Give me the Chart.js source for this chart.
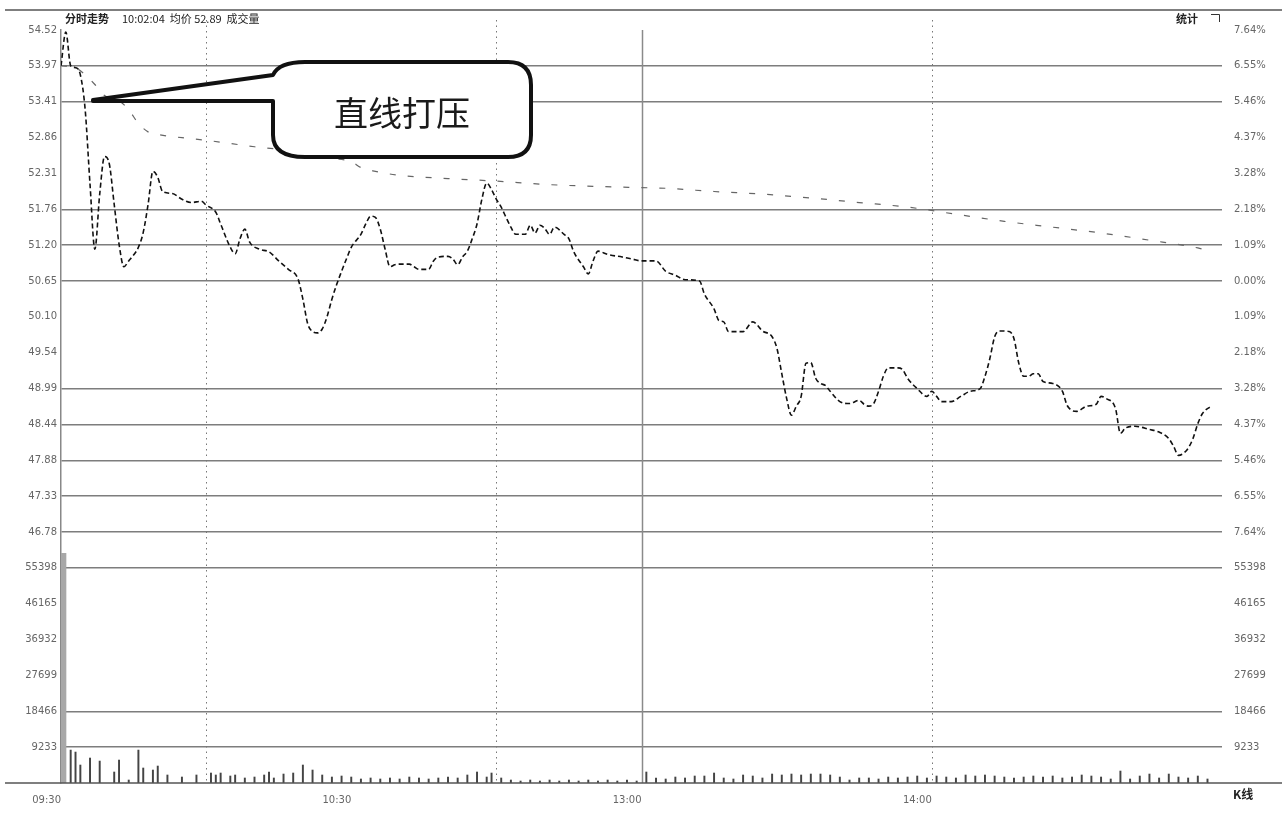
<!DOCTYPE html>
<html>
<head>
<meta charset="utf-8">
<script src="https://cdn.jsdelivr.net/npm/chart.js@4.4.1/dist/chart.umd.min.js"></script>
<style>
html, body { margin: 0; padding: 0; background: #fff; }
#wrap { width: 1282px; height: 818px; position: relative; }
</style>
</head>
<body>
<div id="wrap"><canvas id="fenshi"></canvas></div>
<script>
// 昨收 / 刻度
var prevClose = 50.65;
var priceStep = 0.553;     // 每格 1.09%
var volStep = 9233;        // 成交量每格
var timeLabels = {0: '09:30', 60: '10:30', 120: '13:00', 180: '14:00'};
var solidMinutes = [120];
var dottedMinutes = [30, 90, 180];
var gridRows = [1, 2, 6, 7, 8, 9, 10, 11, 14, 15, 16, 19, 20];

// 分时价格
var priceMinutes = [0,1,2,3,4,5,6,7,8,9,10,11,12,13,14,15,16,17,18,19,20,21,23,25,27,29,30,32,33,35,36,37,38,39,41,43,45,47,49,50,51,52,53,54,55,56,57,58,59,60,62,63,64,65,66,67,68,69,70,72,73,74,76,77,78,80,81,82,83,84,85,86,87,88,89,90,91,92,93,94,96,97,98,99,100,101,102,104,105,106,108,109,110,111,113,116,118,120,
  121,123,125,127,129,132,133,135,136,137,138,140,141,143,145,147,148,149,150,151,152,153,154,155,156,157,158,159,161,163,165,166,167,168,169,170,171,173,174,175,177,179,180,181,182,184,186,188,190,191,192,193,194,196,197,198,199,200,201,202,203,205,207,208,210,212,214,215,216,218,219,220,222,225,227,229,230,231,232,233,234,235,236,238];
var prices = [53.97,54.49,53.97,53.94,53.83,53.29,52.14,51.14,51.99,52.57,52.45,51.83,51.22,50.87,50.96,51.05,51.17,51.40,51.83,52.34,52.25,52.03,52.00,51.91,51.86,51.88,51.82,51.71,51.53,51.17,51.07,51.30,51.45,51.25,51.14,51.10,50.96,50.83,50.68,50.37,49.99,49.87,49.85,49.91,50.10,50.37,50.60,50.80,50.99,51.17,51.37,51.53,51.65,51.63,51.45,51.14,50.87,50.90,50.91,50.91,50.87,50.83,50.83,50.96,51.02,51.03,50.99,50.90,51.02,51.11,51.30,51.53,51.91,52.16,52.06,51.91,51.79,51.63,51.48,51.37,51.37,51.51,51.39,51.51,51.46,51.37,51.48,51.37,51.30,51.10,50.87,50.76,50.96,51.11,51.06,51.02,50.99,50.96,
  50.96,50.96,50.80,50.74,50.67,50.65,50.45,50.22,50.04,50.02,49.87,49.87,49.87,50.02,49.88,49.79,49.61,49.22,48.84,48.58,48.72,48.87,49.38,49.39,49.15,49.07,49.04,48.95,48.79,48.76,48.81,48.75,48.72,48.76,48.95,49.18,49.31,49.31,49.28,49.15,48.99,48.87,48.95,48.87,48.79,48.79,48.87,48.95,48.99,49.18,49.45,49.79,49.88,49.87,49.76,49.38,49.18,49.18,49.22,49.22,49.10,49.07,48.95,48.73,48.64,48.72,48.75,48.87,48.84,48.68,48.30,48.38,48.41,48.36,48.32,48.22,48.10,47.96,47.99,48.07,48.22,48.45,48.61,48.73];

// 均价
var avgMinutes = [0,3,5,7,9,12,14,16,18,20,25,30,35,40,45,50,55,60,62,65,70,80,90,100,110,120,125,135,145,155,165,175,185,195,205,215,225,235,238];
var avgPrices = [53.97,53.94,53.83,53.68,53.51,53.43,53.29,53.08,52.95,52.91,52.86,52.82,52.77,52.72,52.68,52.62,52.55,52.49,52.40,52.34,52.28,52.23,52.19,52.14,52.11,52.09,52.08,52.03,51.99,51.93,51.86,51.79,51.68,51.57,51.48,51.39,51.28,51.16,51.10];

// 成交量
var volMinutes = [0,2,3,4,6,8,11,12,14,16,17,19,20,22,25,28,31,32,33,35,36,38,40,42,43,44,46,48,50,52,54,56,58,60,62,64,66,68,70,72,74,76,78,80,82,84,86,88,89,91,93,95,97,99,101,103,105,107,109,111,113,115,117,119,121,123,125,127,129,131,133,135,137,139,141,143,145,147,149,151,153,155,157,159,161,163,165,167,169,171,173,175,177,179,181,183,185,187,189,191,193,195,197,199,201,203,205,207,209,211,213,215,217,219,221,223,225,227,229,231,233,235,237];
var volumes = [59150,8480,7970,4630,6430,5650,2830,5910,770,8480,
  3860,3340,4370,2060,1540,2060,2570,2060,2570,1800,
  2060,1290,1540,2060,2830,1290,2310,2570,4630,3340,
  2060,1540,1800,1540,1030,1290,1030,1290,1030,1540,
  1290,1030,1290,1540,1290,2060,2830,1540,2570,1290,
  770,510,770,510,770,510,770,510,770,510,
  770,510,770,510,2830,1290,1030,1540,1290,1800,
  1800,2570,1290,1030,2060,1800,1290,2310,2060,2310,
  2060,2310,2310,2060,1540,770,1290,1290,1030,1540,
  1290,1540,1800,1290,1800,1540,1290,2060,1800,2060,
  1800,1540,1290,1540,1800,1540,1800,1290,1540,2060,
  1800,1540,1030,3080,1030,1800,2310,1290,2310,1540,
  1290,1800,1030];

function pts(xs, ys) {
  return xs.map(function (m, i) { return {x: m, y: ys[i]}; });
}

function rowTicks(scale) {
  var t = [];
  for (var i = 0; i <= 21; i++) t.push({value: prevClose + (i - 14) * priceStep});
  scale.ticks = t;
}

var tickFont = {family: 'DejaVu Sans', size: 10};

var decor = {
  id: 'decor',
  beforeDatasetsDraw: function (chart) {
    var ctx = chart.ctx, a = chart.chartArea, x = chart.scales.x;
    ctx.save();
    ctx.strokeStyle = '#8a8a8a';
    ctx.lineWidth = 1.5;
    solidMinutes.forEach(function (m) {
      var px = Math.round(x.getPixelForValue(m)) + 0.5;
      ctx.beginPath(); ctx.moveTo(px, a.top); ctx.lineTo(px, a.bottom); ctx.stroke();
    });
    ctx.strokeStyle = '#777';
    ctx.lineWidth = 1;
    ctx.setLineDash([1.5, 4]);
    dottedMinutes.forEach(function (m) {
      var px = Math.round(x.getPixelForValue(m)) + 0.5;
      ctx.beginPath(); ctx.moveTo(px, 20); ctx.lineTo(px, a.bottom); ctx.stroke();
    });
    ctx.restore();
  },
  afterDraw: function (chart) {
    var ctx = chart.ctx, a = chart.chartArea, w = chart.width;
    ctx.save();
    // 外框线
    ctx.strokeStyle = '#555';
    ctx.lineWidth = 1.5;
    ctx.beginPath(); ctx.moveTo(5, 10); ctx.lineTo(w, 10); ctx.stroke();
    ctx.beginPath(); ctx.moveTo(5, a.bottom); ctx.lineTo(w, a.bottom); ctx.stroke();

    // 顶部文字
    ctx.fillStyle = '#222';
    ctx.font = 'bold 11px "Noto Sans CJK SC"';
    ctx.textBaseline = 'middle';
    ctx.fillText('分时走势', 65, 19);
    ctx.font = '11px "Noto Sans CJK SC"';
    ctx.fillText('10:02:04  均价 52.89  成交量', 122, 19);
    ctx.font = 'bold 11px "Noto Sans CJK SC"';
    ctx.fillText('统计', 1176, 19);
    ctx.lineWidth = 1;
    ctx.strokeStyle = '#333';
    ctx.beginPath(); ctx.moveTo(1211, 14.5); ctx.lineTo(1219.5, 14.5); ctx.lineTo(1219.5, 22); ctx.stroke();
    ctx.font = 'bold 12px "Noto Sans CJK SC"';
    ctx.fillText('K线', 1233, 794);

    // 标注框
    var L = a.left, T = a.top;
    ctx.beginPath();
    ctx.moveTo(L + 32, T + 70);
    ctx.lineTo(L + 212, T + 45);
    ctx.quadraticCurveTo(L + 218, T + 32, L + 244, T + 32);
    ctx.lineTo(L + 447, T + 32);
    ctx.quadraticCurveTo(L + 470, T + 32, L + 470, T + 55);
    ctx.lineTo(L + 470, T + 105);
    ctx.quadraticCurveTo(L + 470, T + 127, L + 447, T + 127);
    ctx.lineTo(L + 244, T + 127);
    ctx.quadraticCurveTo(L + 212, T + 127, L + 212, T + 105);
    ctx.lineTo(L + 212, T + 71);
    ctx.lineTo(L + 32, T + 71);
    ctx.closePath();
    ctx.fillStyle = '#fff';
    ctx.fill();
    ctx.lineWidth = 4;
    ctx.lineJoin = 'round';
    ctx.strokeStyle = '#111';
    ctx.stroke();
    ctx.fillStyle = '#1a1a1a';
    ctx.font = '34px "Noto Sans CJK SC"';
    ctx.textAlign = 'center';
    ctx.textBaseline = 'middle';
    ctx.fillText('直线打压', L + 341, T + 83);
    ctx.restore();
  }
};

new Chart('fenshi', {
  type: 'line',
  data: {
    datasets: [{
      type: 'line',
      data: pts(priceMinutes, prices),
      yAxisID: 'y',
      borderColor: '#111',
      borderWidth: 1.6,
      borderDash: [5, 3],
      pointRadius: 0,
      cubicInterpolationMode: 'monotone'
    }, {
      type: 'line',
      data: pts(avgMinutes, avgPrices),
      yAxisID: 'y',
      borderColor: '#666',
      borderWidth: 1.2,
      borderDash: [6, 12],
      pointRadius: 0,
      cubicInterpolationMode: 'monotone'
    }, {
      type: 'bar',
      data: pts(volMinutes.slice(0, 1), volumes.slice(0, 1)),
      yAxisID: 'yv',
      backgroundColor: '#a8a8a8',
      barThickness: 10,
      grouped: false
    }, {
      type: 'bar',
      data: pts(volMinutes.slice(1), volumes.slice(1)),
      yAxisID: 'yv',
      backgroundColor: '#444',
      barThickness: 1.3,
      grouped: false
    }]
  },
  options: {
    responsive: true,
    maintainAspectRatio: false,
    animation: false,
    layout: {padding: {top: 30, left: 0, right: 0, bottom: 0}},
    plugins: {legend: {display: false}, tooltip: {enabled: false}},
    scales: {
      x: {
        type: 'linear',
        min: 0,
        max: 240,
        offset: false,
        afterBuildTicks: function (s) {
          s.ticks = Object.keys(timeLabels).map(function (k) { return {value: +k}; });
        },
        afterFit: function (s) { s.height = 35; },
        grid: {display: false},
        border: {display: false},
        ticks: {
          autoSkip: false, maxRotation: 0, align: 'end', padding: 3,
          color: '#666', font: tickFont,
          callback: function (v) { return timeLabels[v]; }
        }
      },
      y: {
        position: 'left',
        min: prevClose - 14 * priceStep,
        max: prevClose + 7 * priceStep,
        afterBuildTicks: rowTicks,
        afterFit: function (s) { s.width = 61; },
        border: {display: true, color: '#888', width: 1.5},
        grid: {
          drawTicks: false,
          lineWidth: 1.5,
          color: function (c) { return gridRows.indexOf(c.index) >= 0 ? '#7d7d7d' : 'rgba(0,0,0,0)'; }
        },
        ticks: {
          autoSkip: false, padding: 4, color: '#666', font: tickFont,
          callback: function (v, i) {
            if (i >= 7) return v.toFixed(2);
            return i === 0 ? '' : String(i * volStep);
          }
        }
      },
      yr: {
        position: 'right',
        min: prevClose - 14 * priceStep,
        max: prevClose + 7 * priceStep,
        afterBuildTicks: rowTicks,
        afterFit: function (s) { s.width = 60; },
        border: {display: false},
        grid: {display: false},
        ticks: {
          autoSkip: false, padding: 4, color: '#666', font: tickFont,
          callback: function (v, i) {
            if (i >= 7) return Math.abs((v - prevClose) / prevClose * 100).toFixed(2) + '%';
            return i === 0 ? '' : String(i * volStep);
          }
        }
      },
      yv: {
        display: false,
        min: 0,
        max: 21 * volStep
      }
    }
  },
  plugins: [decor]
});
</script>
</body>
</html>
